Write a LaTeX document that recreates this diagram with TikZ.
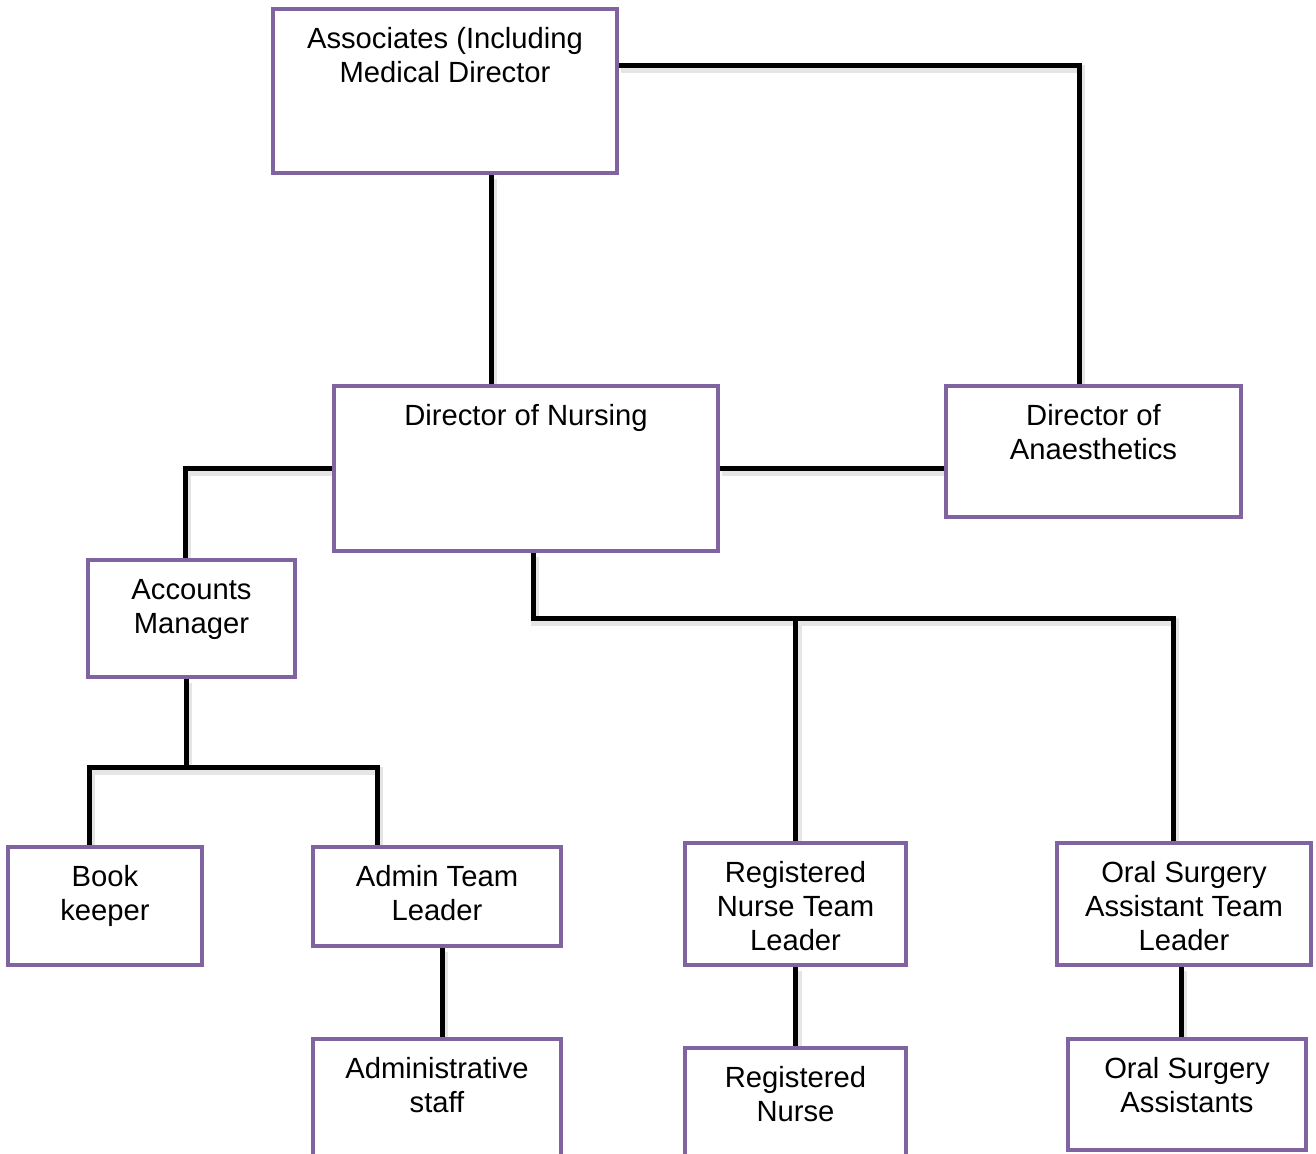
\documentclass[tikz,border=0pt]{standalone}
\usepackage{fontspec}
\setmainfont{Liberation Sans}
\usetikzlibrary{backgrounds}
\definecolor{boxpurple}{HTML}{8064A2}
\tikzset{
  orgbox/.style={draw=boxpurple, line width=2pt, fill=white, rectangle, inner sep=0pt},
  lbl/.style={anchor=base, yshift=-20.8pt, align=center, inner sep=0pt,
    font=\fontsize{14.6pt}{17pt}\selectfont},
  lbltwo/.style={lbl, yshift=-17pt},
  lblthree/.style={lbl, yshift=-34pt},
  conn/.style={draw=black, line width=2.5pt,
    preaction={draw=black!10, line width=4pt, transform canvas={xshift=1.2pt,yshift=-1.8pt}}}
}
\begin{document}
\begin{tikzpicture}[x=0.5pt,y=-0.5pt]
\path[use as bounding box, clip] (0,0) rectangle (1316,1153);

\node[orgbox, minimum width=172pt, minimum height=82pt,
  label={[lbltwo]north:Associates (Including\\Medical Director}] (assoc) at (445,91) {};
\node[orgbox, minimum width=192pt, minimum height=82.5pt,
  label={[lbl]north:Director of Nursing}] (don) at (526,468.5) {};
\node[orgbox, minimum width=147.5pt, minimum height=65.5pt,
  label={[lbltwo]north:Director of\\Anaesthetics}] (doa) at (1093.5,451.5) {};
\node[orgbox, minimum width=103.5pt, minimum height=58.5pt,
  label={[lbltwo]north:Accounts\\Manager}] (acc) at (191.5,618.5) {};
\node[orgbox, minimum width=97pt, minimum height=59pt,
  label={[lbltwo]north:Book\\keeper}] (book) at (105,906) {};
\node[orgbox, minimum width=124pt, minimum height=49.5pt,
  label={[lbltwo]north:Admin Team\\Leader}] (admtl) at (437,896.5) {};
\node[orgbox, minimum width=124pt, minimum height=80.5pt,
  label={[lbltwo]north:Administrative\\staff}] (admst) at (437,1119.5) {};
\node[orgbox, minimum width=110.5pt, minimum height=61pt,
  label={[lblthree]north:Registered\\Nurse Team\\Leader}] (rntl) at (795.5,904) {};
\node[orgbox, minimum width=110.5pt, minimum height=76pt,
  label={[lbltwo]north:Registered\\Nurse}] (rn) at (795.5,1124) {};
\node[orgbox, minimum width=127pt, minimum height=61pt,
  label={[lblthree]north:Oral Surgery\\Assistant Team\\Leader}] (ostl) at (1184,904) {};
\node[orgbox, minimum width=119pt, minimum height=55.5pt,
  label={[lbltwo]north:Oral Surgery\\Assistants}] (osa) at (1187,1094.5) {};

\coordinate (bus) at (533,618);
\coordinate (bus2) at (186,767);

\begin{scope}[on background layer]
\fill[white] (0,0) rectangle (1316,1153);
\draw[conn] ([xshift=23pt]assoc.south) -- ([xshift=23pt]assoc.south |- don.north);
\draw[conn] ([yshift=13pt]assoc.east) -| ([xshift=-7.25pt]doa.north);
\draw[conn] (don.east) -- (don.east -| doa.west);
\draw[conn] (don.west) -| ([xshift=-3.25pt]acc.north);
\draw[conn] ([xshift=3.5pt]don.south) -- (bus) -| ([xshift=-5.5pt]ostl.north);
\draw[conn] (bus -| rntl.north) -- (rntl.north);
\draw[conn] ([xshift=-2.75pt]acc.south) -- (bus2);
\draw[conn] ([xshift=-8pt]book.north) |- (bus2) -| ([xshift=-30pt]admtl.north);
\draw[conn] ([xshift=2.5pt]admtl.south) -- ([xshift=2.5pt]admst.north);
\draw[conn] (rntl.south) -- (rn.north);
\draw[conn] ([xshift=-1.5pt]ostl.south) -- ([xshift=-1.5pt]ostl.south |- osa.north);
\end{scope}
\end{tikzpicture}
\end{document}
